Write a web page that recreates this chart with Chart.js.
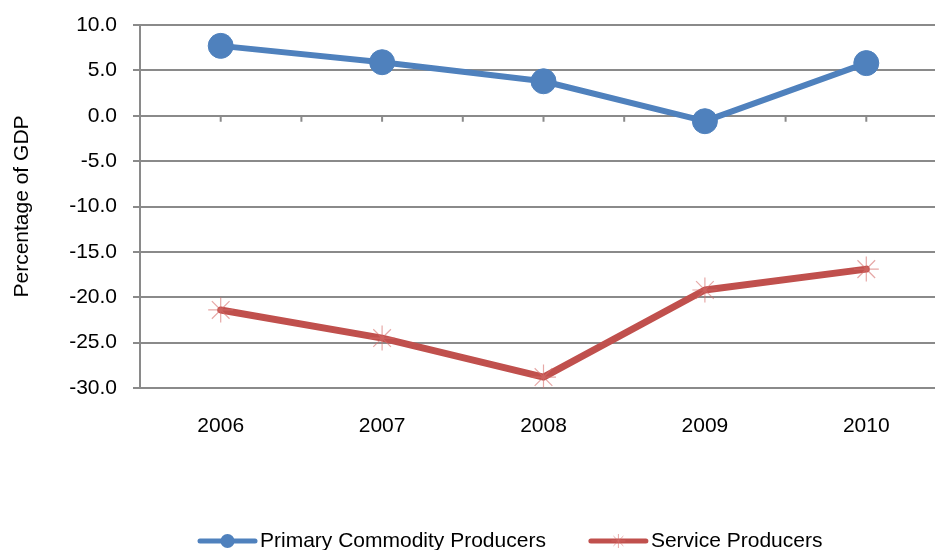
<!DOCTYPE html>
<html>
<head>
<meta charset="utf-8">
<script src="https://cdn.jsdelivr.net/npm/chart.js@4"></script>
<style>
  html, body { margin: 0; padding: 0; background: #fff; overflow: hidden; }
  #wrap { width: 935px; height: 550px; overflow: hidden; position: relative; }
  #balanceChart { display: block; position: absolute; left: 0; top: 0; }
</style>
</head>
<body>
<div id="wrap"><canvas id="balanceChart" width="948" height="550"></canvas></div>
<script>
// Current account balance by country group, % of GDP
const years = ['2006', '2007', '2008', '2009', '2010'];
const primaryCommodity = [7.7, 5.9, 3.8, -0.6, 5.8];
const serviceProducers = [-21.4, -24.5, -28.8, -19.2, -16.9];
const yTicks = [10, 5, 0, -5, -10, -15, -20, -25, -30];

const FONT = '"Liberation Sans", Arial, sans-serif';
const GRID = '#8a8a8a';

// small ticks along the zero line, every half category
const zeroTicks = {
  id: 'zeroTicks',
  beforeDatasetsDraw(chart) {
    const x = chart.scales.x, y = chart.scales.y;
    const y0 = y.getPixelForValue(0);
    const ctx = chart.ctx;
    ctx.save();
    ctx.strokeStyle = GRID;
    ctx.lineWidth = 2;
    ctx.beginPath();
    for (let i = 0; i <= years.length * 2; i++) {
      const px = x.getPixelForValue(i / 2 - 0.5);
      ctx.moveTo(px, y0);
      ctx.lineTo(px, y0 + 6);
    }
    ctx.stroke();
    ctx.restore();
  }
};

// legend drawn as line + marker, like the series themselves
const lineLegend = {
  id: 'lineLegend',
  afterDraw(chart) {
    const ctx = chart.ctx;
    const yMid = 541;
    let x = chart.chartArea.left + 60;
    ctx.save();
    ctx.font = '21px ' + FONT;
    ctx.textBaseline = 'middle';
    chart.data.datasets.forEach(ds => {
      ctx.strokeStyle = ds.borderColor;
      ctx.lineWidth = 5;
      ctx.lineCap = 'round';
      ctx.beginPath();
      ctx.moveTo(x, yMid);
      ctx.lineTo(x + 55, yMid);
      ctx.stroke();
      if (ds.pointStyle === 'circle') {
        ctx.fillStyle = ds.pointBackgroundColor;
        ctx.beginPath();
        ctx.arc(x + 27.5, yMid, 7, 0, Math.PI * 2);
        ctx.fill();
      } else {
        ctx.strokeStyle = ds.pointBorderColor;
        ctx.lineWidth = 1;
        ctx.lineCap = 'butt';
        Chart.helpers.drawPoint(ctx, { pointStyle: 'star', radius: 7, borderWidth: 1 }, x + 27.5, yMid);
      }
      ctx.fillStyle = '#000';
      ctx.fillText(ds.label, x + 60, yMid);
      x += 60 + ctx.measureText(ds.label).width + 45;
    });
    ctx.restore();
  }
};

new Chart(document.getElementById('balanceChart'), {
  type: 'line',
  data: {
    labels: years,
    datasets: [
      {
        label: 'Primary Commodity Producers',
        data: primaryCommodity,
        borderColor: '#4f81bd',
        borderWidth: 6,
        borderJoinStyle: 'round',
        borderCapStyle: 'round',
        pointStyle: 'circle',
        pointRadius: 12.5,
        pointBackgroundColor: '#4f81bd',
        pointBorderColor: '#4f81bd',
        pointBorderWidth: 1,
        tension: 0
      },
      {
        label: 'Service Producers',
        data: serviceProducers,
        borderColor: '#c0504d',
        borderWidth: 7,
        borderJoinStyle: 'round',
        borderCapStyle: 'round',
        pointStyle: 'star',
        pointRadius: 12.5,
        pointBackgroundColor: 'rgba(0,0,0,0)',
        pointBorderColor: 'rgba(214,110,106,0.6)',
        pointBorderWidth: 1.2,
        tension: 0
      }
    ]
  },
  options: {
    responsive: false,
    animation: false,
    layout: { autoPadding: false, padding: { top: 25, right: 1, left: 0, bottom: 0 } },
    plugins: {
      legend: { display: false },
      tooltip: { enabled: false }
    },
    scales: {
      x: {
        type: 'category',
        offset: true,
        grid: { display: false, drawTicks: false },
        border: { display: false },
        ticks: { color: '#000', font: { family: FONT, size: 21 }, padding: 26, maxRotation: 0 },
        afterFit: s => {
          s.height = 162;
          s.paddingLeft = 0;
          s.paddingRight = 0;
        }
      },
      y: {
        min: -30,
        max: 10,
        afterBuildTicks: s => { s.ticks = yTicks.map(v => ({ value: v })); },
        grid: { color: GRID, lineWidth: 2, tickLength: 7 },
        border: { display: true, color: GRID, width: 2 },
        ticks: {
          color: '#000',
          font: { family: FONT, size: 21 },
          padding: 16,
          callback: v => v.toFixed(1)
        },
        title: {
          display: true,
          text: 'Percentage of GDP',
          color: '#000',
          font: { family: FONT, size: 21 },
          padding: { top: 10, bottom: 0 }
        },
        afterFit: s => {
          s.width = 140;
          s.paddingTop = 0;
          s.paddingBottom = 0;
        }
      }
    }
  },
  plugins: [zeroTicks, lineLegend]
});
</script>
</body>
</html>
